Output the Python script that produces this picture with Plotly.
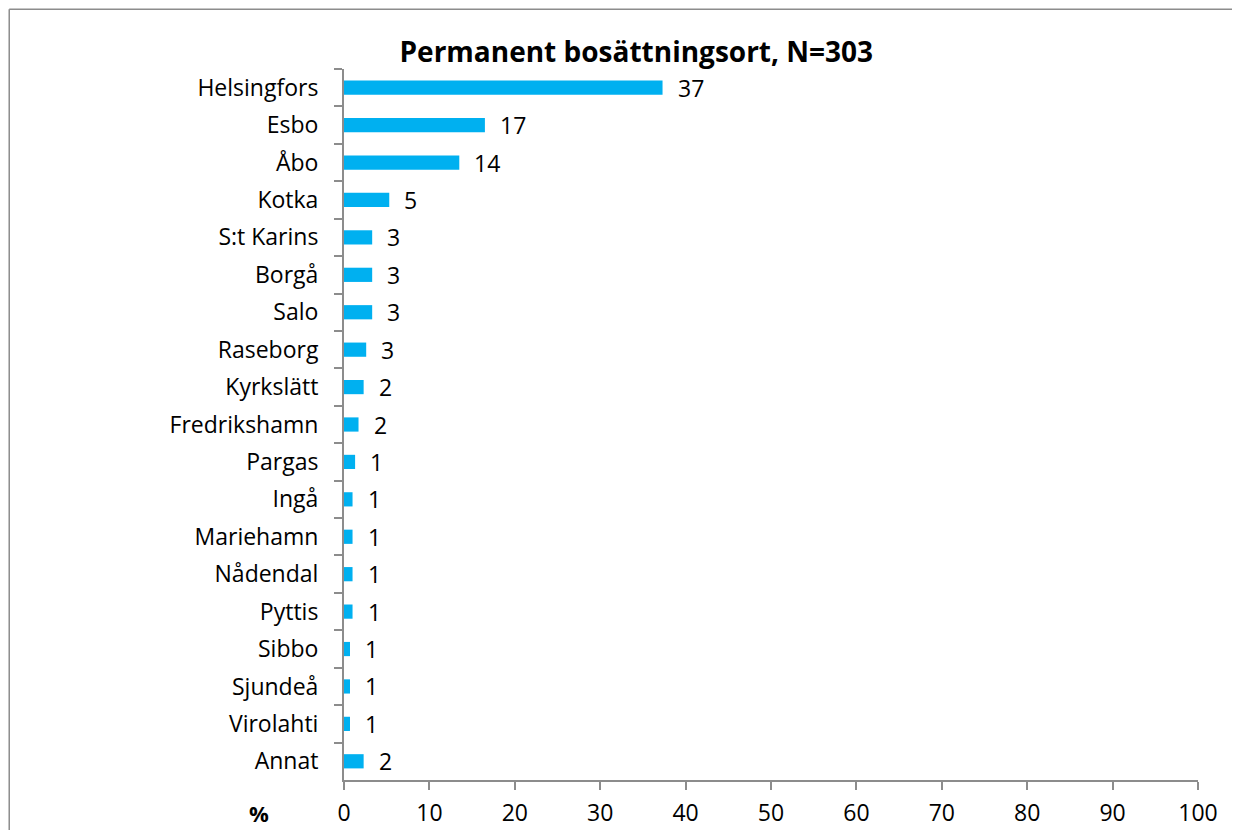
import plotly.graph_objects as go

places = [
    "Helsingfors", "Esbo", "Åbo", "Kotka", "S:t Karins", "Borgå", "Salo",
    "Raseborg", "Kyrkslätt", "Fredrikshamn", "Pargas", "Ingå", "Mariehamn",
    "Nådendal", "Pyttis", "Sibbo", "Sjundeå", "Virolahti", "Annat",
]
shares = [37.3, 16.5, 13.5, 5.3, 3.3, 3.3, 3.3, 2.6, 2.3, 1.7, 1.3,
          1.0, 1.0, 1.0, 1.0, 0.7, 0.7, 0.7, 2.3]
labels = ["37", "17", "14", "5", "3", "3", "3", "3", "2", "2", "1",
          "1", "1", "1", "1", "1", "1", "1", "2"]
x_ticks = list(range(0, 101, 10))

FONT = "'Open Sans', Lato, sans-serif"
AXIS_GREY = "#8c8c8c"

fig = go.Figure(
    go.Bar(
        x=shares,
        y=places,
        orientation="h",
        marker={"color": "#00b0f0", "line": {"width": 0}},
        hoverinfo="x+y",
    )
)

for place, share, label in zip(places, shares, labels):
    fig.add_annotation(
        x=share, y=place, text=label, showarrow=False,
        xanchor="left", xshift=13,
        font={"family": FONT, "size": 23, "color": "black"},
    )

fig.add_annotation(
    xref="paper", yref="paper", x=-0.1, y=-0.047,
    text="<b>%</b>", showarrow=False, xanchor="center", yanchor="middle",
    font={"family": FONT, "size": 22, "color": "black"},
)

# chart frame: only the left and top edges are inside the picture
frame = {"color": AXIS_GREY, "width": 1.5}
fig.add_shape(type="line", xref="paper", yref="paper",
              x0=-0.392, x1=-0.392, y0=-0.2, y1=1.084, line=frame)
fig.add_shape(type="line", xref="paper", yref="paper",
              x0=-0.392, x1=1.2, y0=1.084, y1=1.084, line=frame)

fig.update_layout(
    width=1232,
    height=822,
    margin={"l": 336, "r": 42, "t": 61, "b": 50, "autoexpand": False},
    paper_bgcolor="white",
    plot_bgcolor="white",
    bargap=0.62,
    showlegend=False,
    title={
        "text": "<b>Permanent bosättningsort, N=303</b>",
        "x": 0.51, "xanchor": "center",
        "y": 0.9465, "yanchor": "middle",
        "font": {"family": FONT, "size": 28, "color": "black"},
        "automargin": False,
    },
    font={"family": FONT, "size": 23, "color": "black"},
)
fig.update_xaxes(
    range=[0, 100],
    tickvals=x_ticks,
    showgrid=False,
    zeroline=False,
    showline=True,
    linecolor=AXIS_GREY,
    linewidth=2,
    ticks="outside",
    ticklen=8,
    tickwidth=2,
    tickcolor=AXIS_GREY,
    ticklabelstandoff=3,
    automargin=False,
    fixedrange=True,
)
fig.update_yaxes(
    range=[len(places) - 0.5, -0.5],
    showgrid=False,
    showline=True,
    linecolor=AXIS_GREY,
    linewidth=2,
    ticks="outside",
    tickson="boundaries",
    ticklen=8,
    tickwidth=2,
    tickcolor=AXIS_GREY,
    ticklabelstandoff=19,
    automargin=False,
    fixedrange=True,
)

fig.write_html("out.html")
